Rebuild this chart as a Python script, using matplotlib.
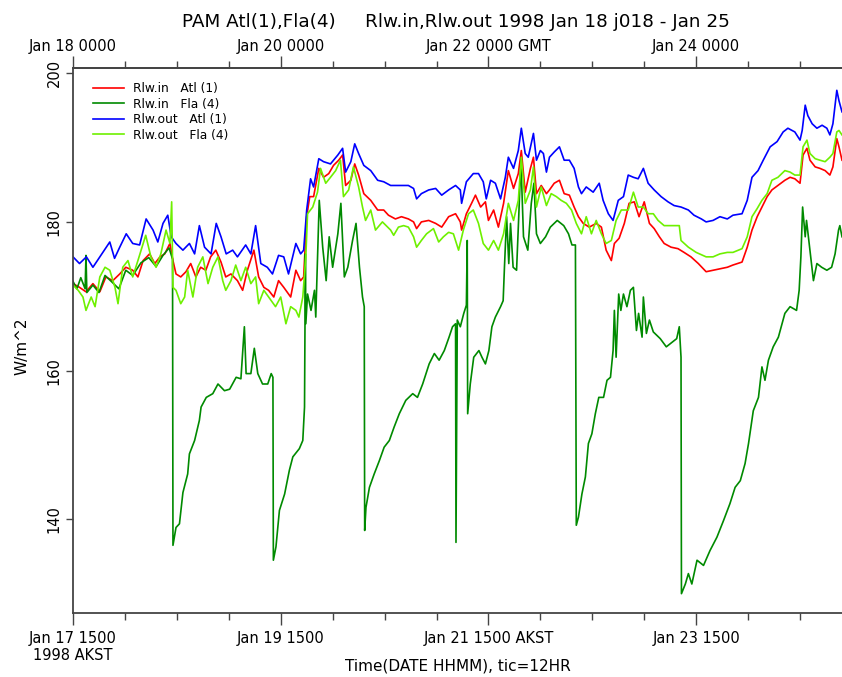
import matplotlib.pyplot as plt
from matplotlib.ticker import FixedLocator

# hours since 1998 Jan 18 0000 GMT, values in W/m^2
rin_atl_h = [0, 1.5, 3.0, 4.6, 6.2, 7.6, 9.2, 10.8, 12.2, 13.8, 15.0, 16.2, 17.7, 18.9, 20.1, 21.2,
             22.4, 23.1, 23.8, 24.9, 26.1, 27.2, 28.4, 29.5, 30.7, 31.8, 33.0, 34.2, 35.3, 36.5,
             38.0, 39.2, 40.3, 41.8, 42.9, 44.1, 45.2, 46.4, 47.5, 48.7, 50.3, 51.5, 52.6, 53.3,
             54.0, 54.7, 55.6, 56.8, 57.9, 59.1, 60.2, 61.4, 62.3, 63.0, 64.2, 65.1, 66.0, 67.2,
             68.8, 70.4, 71.8, 72.9, 74.5, 75.9, 77.5, 78.7, 79.4, 80.5, 82.2, 83.8, 85.2, 86.8,
             88.4, 89.5, 89.8, 90.9, 92.1, 93.0, 94.2, 95.3, 96.0, 97.2, 98.3, 99.5, 100.6, 101.8,
             102.9, 103.6, 104.5, 105.7, 106.4, 107.1, 108.2, 109.4, 110.1, 111.2, 112.4, 113.5,
             114.7, 115.8, 116.8, 117.9, 119.3, 120.9, 122.1, 123.2, 124.4, 125.1, 126.2, 127.4,
             128.5, 129.7, 130.8, 132.0, 133.2, 134.3, 135.5, 136.6, 138.2, 139.8, 141.2, 142.8,
             144.5, 146.3, 147.9, 149.5, 151.2, 152.5, 154.6, 155.8, 156.9, 158.1, 159.2, 160.4,
             161.5, 162.9, 164.5, 165.7, 166.8, 168.0, 168.7, 169.6, 170.3, 171.5, 172.6, 173.8,
             174.9, 175.6, 176.5, 177.0, 177.7]
rin_atl = [171.7, 171.2, 170.6, 171.7, 170.6, 172.6, 172.1, 173.0, 173.9, 173.5, 172.6, 174.8, 175.7,
           174.4, 175.3, 175.7, 177.1, 174.8, 173.0, 172.6, 173.3, 174.4, 172.6, 173.9, 173.5, 175.3,
           176.2, 174.6, 172.6, 173.0, 172.1, 170.8, 173.5, 176.2, 172.6, 171.2, 170.8, 169.9, 172.1,
           171.2, 169.9, 173.5, 172.1, 172.6, 180.7, 183.4, 183.4, 187.2, 186.0, 186.5, 187.6, 188.3,
           189.0, 184.9, 185.6, 187.8, 186.3, 183.8, 182.9, 181.6, 181.6, 180.9, 180.4, 180.7, 180.4,
           180.0, 179.1, 180.0, 180.2, 179.8, 179.3, 180.7, 181.1, 180.0, 178.9, 181.1, 182.5, 183.6,
           182.0, 182.7, 180.2, 181.6, 179.3, 182.5, 186.9, 184.5, 186.5, 189.6, 184.0, 187.2, 188.7,
           183.8, 184.9, 183.8, 184.3, 185.2, 185.6, 183.8, 183.6, 182.0, 180.7, 179.8, 179.3, 179.8,
           179.3, 176.2, 174.8, 177.1, 177.8, 179.8, 182.5, 182.7, 180.7, 182.7, 179.8, 179.1, 178.0,
           177.1, 176.6, 176.4, 175.9, 175.3, 174.4, 173.3, 173.5, 173.7, 173.9, 174.2, 174.6, 176.6,
           178.9, 180.7, 182.0, 183.4, 184.3, 184.9, 185.6, 186.0, 185.8, 185.2, 189.0, 189.9, 188.3,
           187.4, 187.2, 186.9, 186.3, 187.4, 191.2, 190.1, 188.3]

rin_fla_h = [0, 0.9, 1.8, 2.8, 3.0, 3.2, 4.6, 6.0, 7.4, 9.2, 10.6, 12.2, 13.8, 15.7, 17.5, 19.2,
             20.8, 22.2, 23.0, 23.1, 23.8, 24.6, 25.4, 26.5, 26.9, 28.1, 29.2, 29.6, 30.8, 32.3,
             33.5, 35.0, 36.2, 37.7, 38.8, 39.6, 40.0, 41.1, 41.9, 42.7, 43.8, 45.0, 45.8, 46.2,
             46.3, 46.9, 47.7, 48.9, 50.0, 50.8, 52.3, 53.1, 53.5, 53.7, 53.8, 54.2, 55.0, 55.8,
             56.1, 56.9, 57.7, 58.5, 59.2, 60.0, 61.2, 61.9, 62.7, 63.5, 64.6, 65.4, 66.2, 66.9,
             67.3, 67.4, 67.7, 68.5, 69.6, 70.8, 71.9, 73.1, 74.2, 75.4, 76.9, 78.5, 79.6, 80.8,
             82.3, 83.5, 84.6, 85.8, 86.9, 87.7, 88.4, 88.5, 88.8, 89.5, 90.3, 90.9, 91.1, 91.2,
             91.8, 92.6, 93.8, 94.5, 95.3, 96.1, 96.8, 97.6, 98.8, 99.4, 99.7, 100.2, 100.7, 101.1,
             101.7, 102.5, 103.0, 103.5, 104.1, 105.1, 105.9, 106.5, 107.1, 108.0, 109.2, 110.3,
             111.9, 113.4, 114.5, 115.3, 116.1, 116.3, 116.8, 117.6, 118.4, 119.1, 119.9, 120.7,
             121.5, 122.6, 123.4, 124.2, 124.8, 125.1, 125.5, 126.1, 126.6, 127.2, 128.0, 128.8,
             129.5, 130.2, 130.7, 131.5, 131.8, 132.5, 133.2, 134.1, 135.7, 137.1, 138.4, 139.5,
             140.1, 140.5, 140.6, 141.5, 142.2, 143.0, 144.2, 145.7, 147.2, 148.8, 150.3, 151.8,
             153.0, 154.2, 155.3, 156.1, 157.2, 158.4, 159.2, 159.9, 160.7, 161.8, 163.0, 164.5,
             165.7, 167.2, 167.8, 168.2, 168.6, 169.2, 169.5, 170.3, 171.1, 171.9, 173.0, 174.2,
             175.3, 176.1, 176.9, 177.2, 177.7]
rin_fla = [172.0, 171.0, 172.5, 171.0, 175.5, 170.5, 171.5, 170.5, 172.8, 171.8, 171.0, 173.5, 172.8,
           174.5, 175.2, 174.0, 175.5, 176.5, 175.0, 136.5, 138.9, 139.4, 143.6, 146.1, 148.8, 150.6,
           153.3, 155.1, 156.4, 156.9, 158.2, 157.3, 157.5, 159.1, 158.9, 165.9, 159.6, 159.6, 163.0,
           159.6, 158.2, 158.2, 159.6, 159.1, 134.5, 136.3, 141.2, 143.4, 146.6, 148.4, 149.5, 150.6,
           155.1, 175.7, 166.3, 170.3, 168.1, 170.8, 167.2, 182.9, 176.6, 172.1, 178.0, 173.9, 178.4,
           182.5, 172.6, 173.9, 177.5, 179.8, 173.9, 169.9, 168.6, 138.5, 141.6, 144.3, 146.1, 147.9,
           149.7, 150.6, 152.4, 154.2, 156.0, 156.9, 156.4, 158.2, 160.9, 162.3, 161.4, 162.7, 164.5,
           165.9, 166.3, 136.9, 166.8, 165.9, 167.7, 168.8, 177.5, 154.2, 158.2, 161.8, 162.7, 161.8,
           160.9, 162.7, 165.9, 167.2, 168.6, 169.4, 173.9, 180.7, 174.4, 179.8, 173.9, 173.5, 180.7,
           188.3, 178.0, 176.2, 182.5, 185.2, 178.4, 177.1, 178.0, 179.3, 180.2, 179.5, 178.4, 176.9,
           176.9, 139.2, 140.3, 143.4, 145.7, 150.2, 151.5, 154.2, 156.4, 156.4, 158.7, 159.1, 162.7,
           168.1, 161.8, 170.3, 168.1, 170.3, 168.6, 170.8, 171.2, 165.4, 167.7, 164.5, 169.9, 165.0,
           166.8, 165.2, 164.3, 163.2, 163.8, 164.3, 165.9, 161.8, 130.0, 131.3, 132.7, 131.3, 134.5,
           133.8, 135.8, 137.6, 139.8, 142.1, 144.3, 145.2, 147.5, 150.2, 154.6, 156.4, 160.5, 158.7,
           161.4, 163.2, 164.5, 167.7, 168.6, 168.1, 170.8, 175.3, 182.0, 178.0, 180.2, 176.2, 172.1,
           174.4, 173.9, 173.5, 173.9, 175.7, 178.9, 179.5, 178.0]

rout_atl_h = [0, 1.5, 3.1, 4.6, 6.2, 7.7, 8.5, 9.6, 10.8, 12.3, 13.8, 15.4, 16.9, 18.5, 19.6, 20.8,
              21.9, 22.7, 23.8, 25.4, 26.9, 28.1, 29.2, 30.4, 31.9, 33.1, 34.2, 35.4, 36.9, 38.0,
              39.9, 41.1, 42.2, 43.4, 44.9, 46.1, 47.5, 48.7, 49.8, 51.5, 52.6, 53.3, 54.0, 54.9,
              55.6, 56.8, 57.9, 59.5, 61.2, 62.3, 63.0, 64.2, 65.1, 66.0, 67.2, 68.8, 70.4, 71.8,
              73.4, 74.5, 75.9, 77.5, 78.7, 79.4, 80.5, 82.2, 83.8, 85.2, 86.8, 88.4, 89.5, 89.8,
              90.9, 92.5, 93.7, 94.8, 95.5, 96.5, 97.6, 98.8, 99.9, 100.6, 101.8, 102.9, 103.6,
              104.5, 105.2, 106.4, 107.1, 108.0, 108.7, 109.4, 110.1, 111.2, 112.4, 113.5, 114.7,
              115.8, 116.8, 117.5, 118.6, 120.2, 121.6, 122.5, 123.7, 124.8, 126.0, 127.2, 128.3,
              129.5, 130.6, 131.8, 132.9, 134.3, 135.9, 137.5, 138.9, 140.5, 142.2, 143.5, 145.2,
              146.3, 147.9, 149.5, 151.2, 152.5, 154.6, 155.8, 156.9, 158.3, 159.5, 161.1, 162.7,
              164.1, 165.2, 166.8, 168.0, 168.5, 169.2, 169.8, 170.8, 171.9, 173.1, 174.2, 174.9,
              175.6, 176.5, 177.0, 177.7]
rout_atl = [175.3, 174.4, 175.3, 173.9, 175.3, 176.6, 177.3, 175.1, 176.6, 178.4, 177.1, 176.9, 180.4,
            178.9, 177.3, 179.8, 180.9, 178.0, 177.1, 176.2, 177.1, 175.7, 179.5, 176.6, 175.7, 179.8,
            178.0, 175.7, 176.2, 175.3, 176.9, 175.7, 179.5, 174.4, 173.9, 173.0, 175.5, 175.3, 173.0,
            177.1, 175.7, 176.2, 181.6, 185.8, 184.7, 188.5, 188.1, 187.8, 189.0, 189.9, 186.7, 188.1,
            190.5, 189.2, 187.6, 186.9, 185.6, 185.4, 184.9, 184.9, 184.9, 184.9, 184.5, 183.1, 183.8,
            184.3, 184.5, 183.6, 184.3, 184.9, 184.3, 182.5, 185.4, 186.5, 186.5, 185.4, 183.1, 185.6,
            185.2, 183.1, 186.0, 188.7, 187.2, 189.6, 192.6, 189.2, 188.7, 191.9, 188.3, 189.6, 189.2,
            186.7, 188.7, 189.4, 190.1, 188.3, 188.3, 187.2, 184.7, 183.8, 184.7, 184.0, 185.2, 182.9,
            181.1, 180.2, 182.9, 183.4, 186.3, 186.0, 185.8, 187.2, 185.2, 184.3, 183.4, 182.7, 182.2,
            182.0, 181.6, 180.9, 180.4, 180.0, 180.2, 180.7, 180.4, 180.9, 181.1, 182.9, 186.0, 186.9,
            188.3, 190.1, 190.8, 192.1, 192.6, 192.1, 191.0, 192.3, 195.7, 194.3, 193.2, 192.6, 193.0,
            192.6, 191.7, 193.2, 197.7, 196.3, 194.8]

rout_fla_h = [0, 1.2, 2.3, 3.0, 4.2, 5.1, 6.2, 7.4, 8.5, 9.7, 10.4, 11.5, 12.7, 13.8, 15.0, 16.2,
              16.8, 18.0, 19.2, 20.3, 21.5, 22.4, 22.8, 23.1, 23.8, 24.9, 25.8, 26.5, 27.7, 28.8,
              30.0, 31.2, 32.3, 33.5, 34.6, 35.3, 36.5, 37.6, 38.8, 39.9, 41.1, 42.2, 42.9, 44.1,
              45.2, 46.8, 48.0, 49.2, 50.3, 51.5, 52.2, 53.1, 53.8, 54.2, 55.4, 56.5, 57.2, 58.4,
              59.5, 60.7, 61.8, 62.5, 63.7, 64.8, 66.0, 66.9, 67.6, 68.8, 69.9, 71.5, 73.4, 74.1,
              75.2, 76.4, 77.5, 78.7, 79.4, 80.5, 81.7, 83.3, 84.5, 85.6, 86.8, 87.9, 89.1, 90.2,
              91.4, 92.5, 93.7, 94.8, 96.0, 97.2, 98.3, 99.5, 100.6, 101.8, 102.9, 103.6, 104.5,
              105.7, 106.4, 107.1, 108.2, 109.4, 110.5, 111.7, 112.8, 114.0, 115.2, 116.3, 117.5,
              118.6, 119.8, 120.9, 122.1, 123.2, 124.4, 125.5, 126.7, 128.3, 129.5, 130.6, 131.8,
              132.9, 134.1, 135.2, 136.6, 138.2, 140.1, 140.5, 142.2, 144.0, 146.3, 147.9, 149.5,
              151.2, 152.5, 154.6, 155.8, 156.9, 158.1, 159.2, 160.4, 161.5, 162.9, 164.5, 165.7,
              166.8, 168.0, 168.7, 169.6, 170.3, 171.5, 172.6, 173.8, 174.9, 175.6, 176.5, 177.0,
              177.7]
rout_fla = [171.5, 170.8, 169.9, 168.1, 169.9, 168.6, 172.6, 173.9, 173.5, 171.2, 169.0, 173.9, 174.8,
            172.6, 174.8, 177.1, 178.2, 175.3, 173.9, 175.7, 178.9, 177.1, 182.7, 171.2, 170.8, 169.0,
            169.9, 173.5, 169.9, 173.9, 175.3, 171.7, 173.9, 175.3, 172.1, 170.8, 172.1, 174.2, 172.1,
            173.9, 171.7, 172.6, 169.0, 170.8, 169.9, 168.6, 169.9, 166.3, 168.6, 168.1, 167.2, 169.9,
            175.3, 181.1, 182.0, 184.0, 187.2, 185.2, 186.0, 186.9, 188.3, 183.4, 184.3, 187.4, 184.7,
            182.0, 180.2, 181.6, 178.9, 180.0, 178.9, 178.2, 179.3, 179.5, 179.3, 178.0, 176.6, 177.5,
            178.4, 179.1, 177.3, 178.0, 178.6, 178.4, 176.2, 178.9, 181.1, 181.6, 179.8, 177.1, 176.2,
            177.5, 176.2, 178.4, 182.5, 180.2, 182.9, 188.7, 182.5, 184.3, 187.4, 182.0, 184.7, 182.2,
            183.8, 183.4, 182.9, 182.5, 181.6, 179.8, 178.4, 180.7, 178.4, 180.2, 178.4, 177.1, 177.5,
            180.2, 181.6, 181.6, 184.0, 182.0, 182.0, 181.1, 181.1, 180.2, 179.5, 179.5, 179.5, 177.5,
            176.6, 175.9, 175.3, 175.3, 175.7, 175.9, 175.9, 176.4, 178.0, 180.7, 181.8, 182.9, 183.8,
            185.6, 186.0, 186.9, 186.7, 186.3, 186.3, 190.1, 191.0, 189.2, 188.5, 188.3, 188.1, 188.7,
            189.2, 192.1, 192.3, 191.7]

tick_hours = [0, 48, 96, 144]
minor_hours = [0, 12, 24, 36, 48, 60, 72, 84, 96, 108, 120, 132, 144, 156, 168]
gmt_labels = ['Jan 18 0000', 'Jan 20 0000', 'Jan 22 0000 GMT', 'Jan 24 0000']
akst_labels = ['Jan 17 1500\n1998 AKST', 'Jan 19 1500', 'Jan 21 1500 AKST', 'Jan 23 1500']
y_ticks = [140, 160, 180, 200]

plt.rcParams['font.family'] = ['DejaVu Sans']
fig = plt.figure(figsize=(8.42, 6.77), dpi=100)
ax = fig.add_axes([73 / 842, 64 / 677, 769 / 842, 545 / 677])

lw = 1.2
ax.plot(rin_atl_h, rin_atl, color='#ff0000', lw=lw, label='Rlw.in   Atl (1)')
ax.plot(rin_fla_h, rin_fla, color='#008a00', lw=lw, label='Rlw.in   Fla (4)')
ax.plot(rout_atl_h, rout_atl, color='#0000ff', lw=lw, label='Rlw.out   Atl (1)')
ax.plot(rout_fla_h, rout_fla, color='#6ef000', lw=lw, label='Rlw.out   Fla (4)')

ax.set_xlim(0, 177.7)
ax.set_ylim(127.4, 200.7)

spc = '#444444'
for side in ['left', 'bottom', 'top']:
    ax.spines[side].set_color(spc)
    ax.spines[side].set_linewidth(1.3)
ax.spines['right'].set_visible(False)

ax.set_xticks(tick_hours)
ax.set_xticklabels(akst_labels)
ax.xaxis.set_minor_locator(FixedLocator(minor_hours))
ax.tick_params(axis='x', which='major', length=8.6, width=1, color=spc, pad=4, labelsize=10.5)
ax.tick_params(axis='x', which='minor', length=5, width=1, color=spc)

top = ax.secondary_xaxis('top')
top.set_xticks(tick_hours)
top.set_xticklabels(gmt_labels)
top.xaxis.set_minor_locator(FixedLocator(minor_hours))
top.tick_params(axis='x', which='major', length=8.6, width=1, color=spc, pad=1.5, labelsize=10.5)
top.tick_params(axis='x', which='minor', length=5, width=1, color=spc)
top.spines['top'].set_color(spc)
top.spines['top'].set_linewidth(1.3)

ax.set_yticks(y_ticks)
ax.set_yticklabels([str(v) for v in y_ticks], rotation=90, va='center')
ax.tick_params(axis='y', length=5, width=1, color=spc, pad=3, labelsize=10.5)

ax.set_ylabel('W/m^2', fontsize=11)
ax.yaxis.set_label_coords(-0.056, 0.49)
ax.set_xlabel('Time(DATE HHMM), tic=12HR', fontsize=11)
ax.xaxis.set_label_coords(0.5, -0.084)

fig.text(0.541, 0.9675, 'PAM Atl(1),Fla(4)     Rlw.in,Rlw.out 1998 Jan 18 j018 - Jan 25',
         ha='center', va='center', fontsize=13.2)

ax.legend(loc='upper left', bbox_to_anchor=(0.026, 0.974), frameon=False, fontsize=8.8,
          handlelength=2.5, handletextpad=0.8, labelspacing=0.2, borderpad=0, borderaxespad=0)

fig.savefig('out.png', dpi=100)
